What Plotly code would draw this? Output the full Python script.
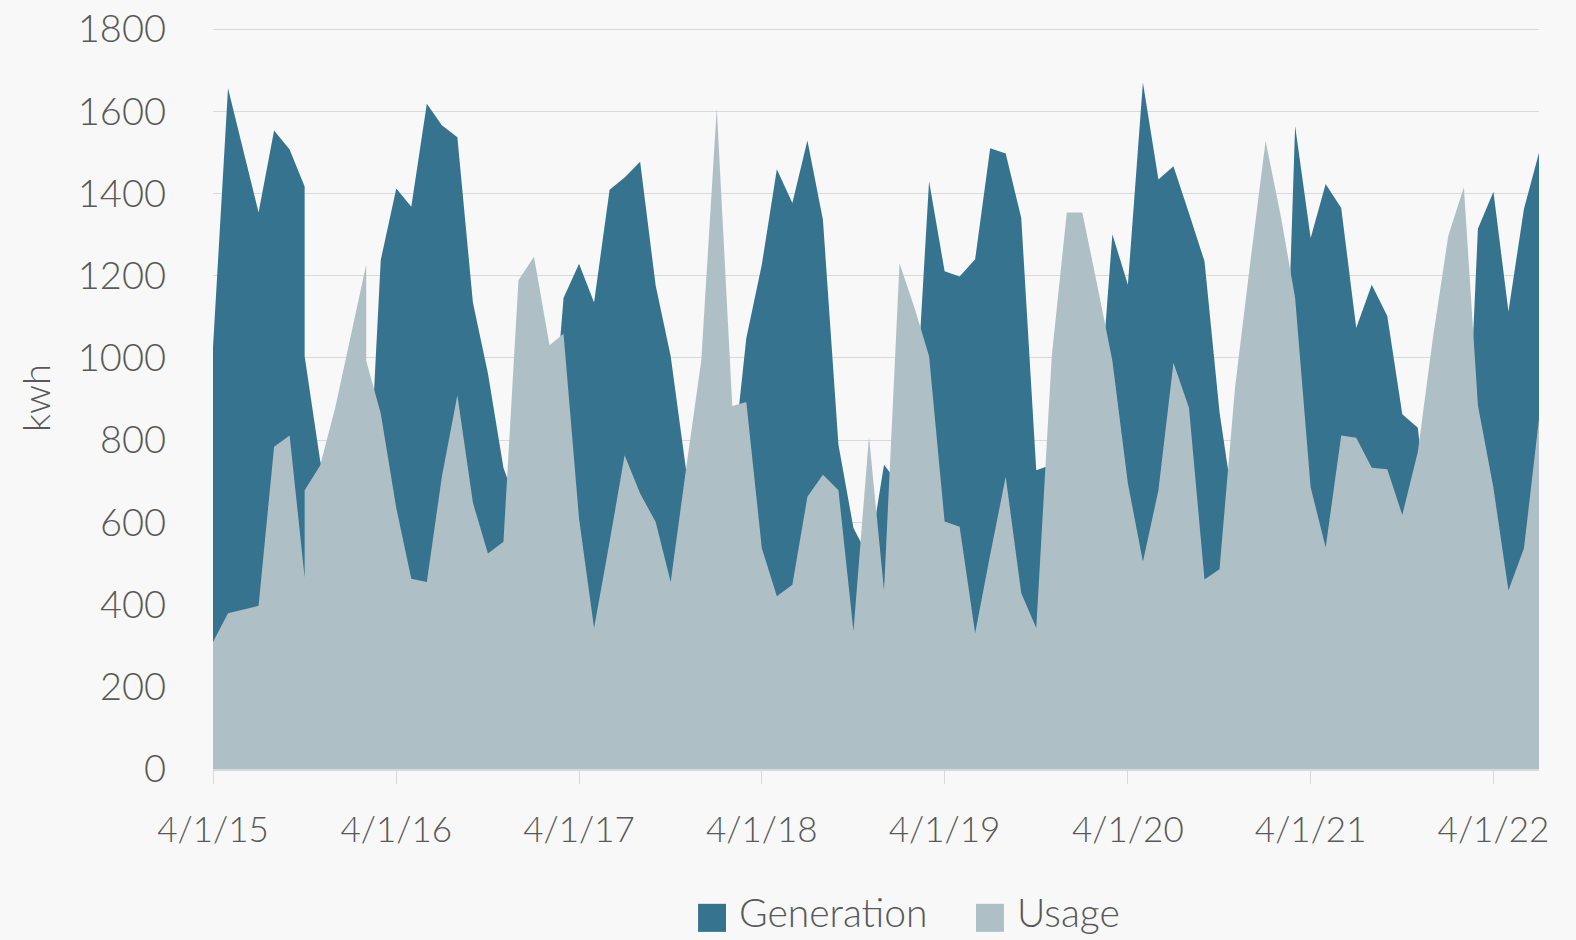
import plotly.graph_objects as go

# ---- data (monthly readings; two readings fall in Oct-2015 and Feb-2016) ----
dates = [
    "2015-04-01", "2015-05-01", "2015-07-01", "2015-08-01", "2015-09-01",
    "2015-10-01", "2015-10-01", "2015-11-01", "2015-12-01",
    "2016-02-01", "2016-02-01", "2016-03-01", "2016-04-01", "2016-05-01",
    "2016-06-01", "2016-07-01", "2016-08-01", "2016-09-01", "2016-10-01",
    "2016-11-01", "2016-12-01", "2017-01-01", "2017-02-01", "2017-03-01",
    "2017-04-01", "2017-05-01", "2017-06-01", "2017-07-01", "2017-08-01",
    "2017-09-01", "2017-10-01", "2017-11-01", "2017-12-01", "2018-01-01",
    "2018-02-01", "2018-03-01", "2018-04-01", "2018-05-01", "2018-06-01",
    "2018-07-01", "2018-08-01", "2018-09-01", "2018-10-01", "2018-11-01",
    "2018-12-01", "2019-01-01", "2019-02-01", "2019-03-01", "2019-04-01",
    "2019-05-01", "2019-06-01", "2019-07-01", "2019-08-01", "2019-09-01",
    "2019-10-01", "2019-11-01", "2019-12-01", "2020-01-01", "2020-02-01",
    "2020-03-01", "2020-04-01", "2020-05-01", "2020-06-01", "2020-07-01",
    "2020-08-01", "2020-09-01", "2020-10-01", "2020-11-01", "2020-12-01",
    "2021-01-01", "2021-02-01", "2021-03-01", "2021-04-01", "2021-05-01",
    "2021-06-01", "2021-07-01", "2021-08-01", "2021-09-01", "2021-10-01",
    "2021-11-01", "2021-12-01", "2022-01-01", "2022-02-01", "2022-03-01",
    "2022-04-01", "2022-05-01", "2022-06-01", "2022-07-01",
]

generation = [
    1026, 1656, 1354, 1553, 1507,
    1417, 1004, 750, 620,
    560, 549, 1238, 1412, 1368,
    1618, 1566, 1537, 1135, 963,
    733, 633, 600, 723, 1146,
    1229, 1135, 1409, 1439, 1477,
    1176, 1004, 725, 600, 560,
    729, 1048, 1227, 1459, 1377,
    1529, 1336, 789, 586, 513,
    740, 690, 847, 1430, 1211,
    1198, 1240, 1510, 1497, 1341,
    727, 740, 620, 600, 830,
    1301, 1178, 1670, 1434, 1466,
    1352, 1235, 868, 613, 560,
    500, 528, 1564, 1292, 1423,
    1365, 1073, 1178, 1102, 863,
    830, 500, 500, 550, 1314,
    1404, 1113, 1363, 1499,
]

usage = [
    309, 379, 397, 784, 811,
    466, 678, 738, 879,
    1227, 993, 865, 635, 463,
    455, 711, 909, 648, 524,
    553, 1189, 1246, 1031, 1059,
    609, 343, 553, 763, 670,
    601, 455, 733, 993, 1608,
    883, 893, 537, 420, 448,
    662, 716, 678, 336, 809,
    434, 1230, 1118, 1004, 602,
    589, 330, 521, 711, 428,
    343, 1004, 1354, 1354, 1170,
    993, 695, 504, 678, 988,
    879, 461, 486, 928, 1228,
    1528, 1341, 1146, 685, 539,
    811, 806, 733, 729, 618,
    771, 1048, 1298, 1415, 885,
    684, 434, 537, 852,
]

tick_dates = ["2015-04-01", "2016-04-01", "2017-04-01", "2018-04-01",
              "2019-04-01", "2020-04-01", "2021-04-01", "2022-04-01"]
tick_labels = ["4/1/15", "4/1/16", "4/1/17", "4/1/18",
               "4/1/19", "4/1/20", "4/1/21", "4/1/22"]
y_ticks = [0, 200, 400, 600, 800, 1000, 1200, 1400, 1600, 1800]

series_names = ["Generation", "Usage"]
GEN_COLOR = "#36738E"
USE_COLOR = "#AEC0C6"
TEXT_COLOR = "#595959"
GRID_COLOR = "#D9D9D9"
BG = "#F8F8F8"
FONT = "Lato"

fig = go.Figure()
fig.add_trace(go.Scatter(x=dates, y=generation, name=series_names[0], mode="none",
                         fill="tozeroy", fillcolor=GEN_COLOR, showlegend=False))
fig.add_trace(go.Scatter(x=dates, y=usage, name=series_names[1], mode="none",
                         fill="tozeroy", fillcolor=USE_COLOR, showlegend=False))

# manual legend (square swatches as in the original)
legend_items = [
    (series_names[0], GEN_COLOR, 0.3658, 0.3950),
    (series_names[1], USE_COLOR, 0.5754, 0.6050),
]
shapes = []
annotations = []
for name, color, sx, tx in legend_items:
    shapes.append(dict(type="rect", xref="paper", yref="paper",
                       x0=sx, x1=sx + 0.0211, y0=-0.2195, y1=-0.1817,
                       fillcolor=color, line=dict(width=0)))
    annotations.append(dict(text=name, xref="paper", yref="paper", x=tx, y=-0.1930,
                            xanchor="left", yanchor="middle", showarrow=False,
                            font=dict(family=FONT, size=39, color=TEXT_COLOR, weight=300)))

fig.update_layout(
    width=1576, height=940,
    paper_bgcolor=BG, plot_bgcolor=BG,
    margin=dict(l=213, r=37, t=27, b=171),
    showlegend=False,
    shapes=shapes,
    annotations=annotations,
    font=dict(family=FONT, color=TEXT_COLOR, size=38, weight=300),
    xaxis=dict(
        type="date",
        automargin=False,
        range=["2015-04-01", "2022-07-01"],
        tickmode="array", tickvals=tick_dates, ticktext=tick_labels,
        showgrid=False, showline=True, linecolor=GRID_COLOR, linewidth=2,
        ticks="outside", ticklen=13, tickcolor=GRID_COLOR, tickwidth=1,
        tickfont=dict(family=FONT, size=35, color=TEXT_COLOR, weight=300),
        ticklabelstandoff=16,
        zeroline=False,
    ),
    yaxis=dict(
        automargin=False,
        range=[0, 1805],
        tickmode="array", tickvals=y_ticks,
        showgrid=True, gridcolor=GRID_COLOR, gridwidth=1.3,
        showline=False, zeroline=False, ticks="",
        tickfont=dict(family=FONT, size=38, color=TEXT_COLOR, weight=300),
        ticklabelstandoff=46,
        title=dict(text="kwh", standoff=15,
                   font=dict(family=FONT, size=38, color=TEXT_COLOR, weight=300)),
    ),
)

fig.write_html(
    "out.html",
    config={"displayModeBar": False},
    post_script="document.body.style.margin='0';document.body.style.padding='0';",
)
